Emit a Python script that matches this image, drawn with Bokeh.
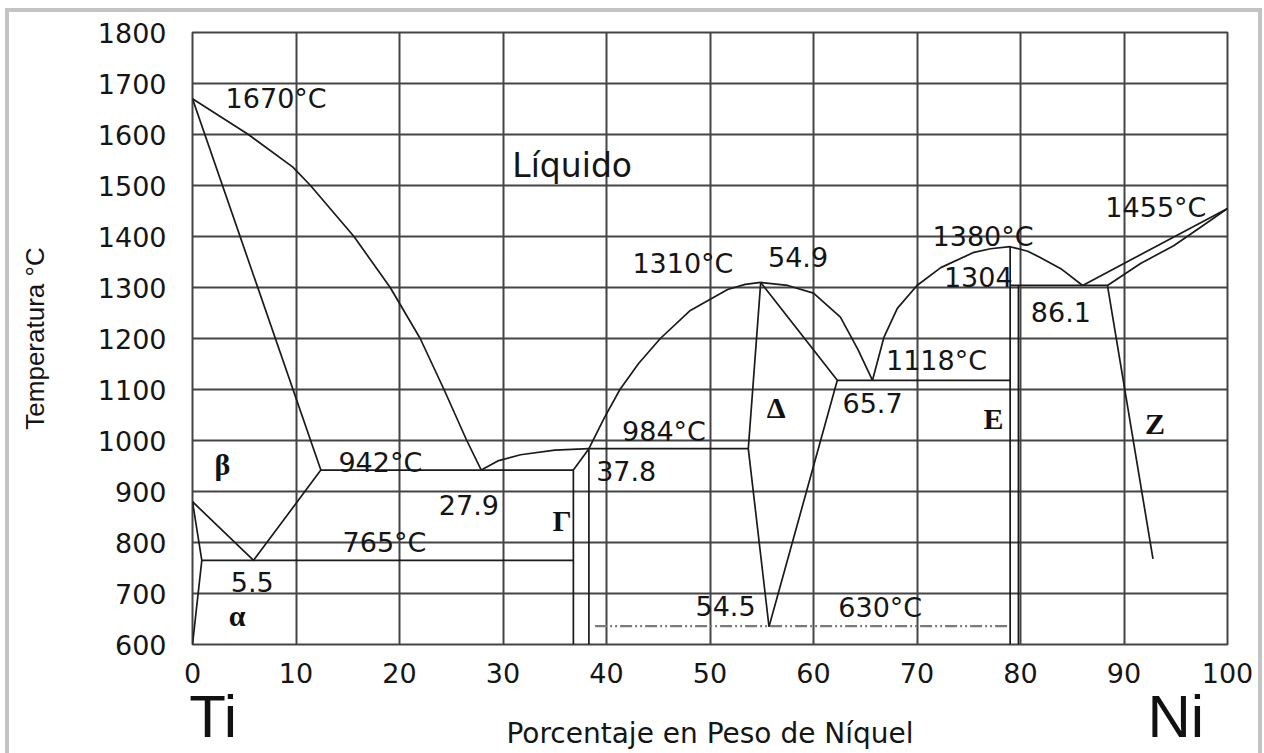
from bokeh.plotting import figure
from bokeh.models import ColumnDataSource, FixedTicker, Range1d, LinearAxis, InlineStyleSheet
from bokeh.core.properties import value
from bokeh.embed import file_html
from bokeh.resources import INLINE

# ---------------- data (wt% Ni, temperature in C) ----------------
x_ticks = [0, 10, 20, 30, 40, 50, 60, 70, 80, 90, 100]
y_ticks = [600, 700, 800, 900, 1000, 1100, 1200, 1300, 1400, 1500, 1600, 1700, 1800]
element_ticks = [2, 95]
element_names = {2: "Ti", 95: "Ni"}

liq_ti_x = [0, 5.4, 9.7, 11.4, 15.6, 19.1, 22.0, 24.3, 26.5, 27.9]
liq_ti_t = [1670, 1600, 1536, 1500, 1400, 1300, 1200, 1100, 1000, 942]

sol_beta_x = [0, 12.4]
sol_beta_t = [1670, 942]

beta_alpha_x = [0, 5.9, 12.4]
beta_alpha_t = [880, 765, 942]

alpha_x = [0, 0.9, 0]
alpha_t = [880, 765, 600]

iso765_x = [0.9, 36.8]
iso765_t = [765, 765]

iso942_x = [12.4, 36.8]
iso942_t = [942, 942]

gamma_x = [36.8, 36.8, 38.3, 38.3]
gamma_t = [600, 942, 984, 600]

liq_gamma_x = [27.9, 29.5, 31.7, 35.0, 38.3]
liq_gamma_t = [942, 960, 972, 981, 984]

iso984_x = [38.3, 53.7]
iso984_t = [984, 984]

liq_dl_x = [38.3, 39.8, 41.3, 43.1, 45.2, 48.1, 51.7, 53.4, 54.9]
liq_dl_t = [984, 1045, 1100, 1151, 1200, 1255, 1296, 1306, 1310]

liq_dr_x = [54.9, 57.5, 60.0, 62.6, 64.3, 65.7]
liq_dr_t = [1310, 1304, 1289, 1242, 1178, 1118]

delta_l_x = [54.9, 53.7, 55.7]
delta_l_t = [1310, 984, 635]

delta_r_x = [54.9, 62.3, 55.7]
delta_r_t = [1310, 1118, 635]

iso1118_x = [62.3, 79.0]
iso1118_t = [1118, 1118]

liq_e_x = [65.7, 66.8, 68.1, 70.0, 72.3, 75.5, 77.1, 79.0, 80.7, 81.9, 83.9, 86.0]
liq_e_t = [1118, 1202, 1259, 1304, 1339, 1369, 1376, 1380, 1371, 1359, 1337, 1304]

e1_x = [79.0, 79.0]
e1_t = [1380, 600]
e2_x = [79.8, 79.8]
e2_t = [1304, 600]

iso1304_x = [79.0, 88.4]
iso1304_t = [1304, 1304]

liq_ni_x = [86.0, 100]
liq_ni_t = [1304, 1455]

sol_ni_x = [88.4, 91.6, 94.8, 97.4, 100]
sol_ni_t = [1304, 1347, 1382, 1418, 1455]

solvus_z_x = [88.4, 92.8]
solvus_z_t = [1304, 768]

iso630_x = [38.9, 78.7]
iso630_t = [636, 636]

# annotation texts
num_text = ["1670°C", "1455°C", "1380°C", "1304", "86.1", "1118°C", "65.7",
            "1310°C", "54.9", "984°C", "37.8", "27.9", "942°C", "765°C",
            "5.5", "54.5", "630°C"]
num_x = [3.2, 88.2, 71.5, 72.6, 81.0, 67.0, 62.8,
         42.5, 55.6, 41.5, 39.0, 23.8, 14.1, 14.5,
         3.7, 48.6, 62.4]
num_t = [1671, 1457, 1400, 1320, 1251, 1157, 1074,
         1347, 1359, 1018, 941, 873, 957, 800,
         722, 676, 673]

phase_text = ["β", "α", "Γ", "Δ", "E", "Z"]
phase_x = [2.9, 4.3, 35.7, 56.4, 77.4, 93.0]
phase_t = [953, 657, 843, 1065, 1043, 1033]

# ---------------- figure ----------------
frame_css = InlineStyleSheet(css="""
:host { position: relative; }
:host::after {
  content: ""; position: absolute; left: 5px; top: 8px;
  width: 1249px; height: 760px;
  border: 4px solid #c3c3c3; pointer-events: none;
}
""")

p = figure(width=1264, height=753, output_backend="svg", toolbar_location=None,
           x_range=Range1d(0, 100), y_range=Range1d(600, 1800),
           min_border_left=192, min_border_right=37, min_border_top=32,
           min_border_bottom=109, background_fill_color="white",
           border_fill_color="white", stylesheets=[frame_css])

grid_col = "#444444"
p.xgrid.ticker = FixedTicker(ticks=x_ticks)
p.ygrid.ticker = FixedTicker(ticks=y_ticks)
for g in (p.xgrid, p.ygrid):
    g.grid_line_color = grid_col
    g.grid_line_width = 2
    g.grid_line_alpha = 1
p.outline_line_color = grid_col
p.outline_line_width = 2
p.outline_line_alpha = 1

p.xaxis.ticker = FixedTicker(ticks=x_ticks)
p.yaxis.ticker = FixedTicker(ticks=y_ticks)

elem_axis = LinearAxis(ticker=FixedTicker(ticks=element_ticks),
                       major_label_overrides=element_names)
p.add_layout(elem_axis, "below")

for ax in (p.xaxis[0], p.yaxis[0], elem_axis):
    ax.axis_line_color = None
    ax.major_tick_line_color = None
    ax.minor_tick_line_color = None
    ax.major_tick_out = 0
    ax.major_tick_in = 0
    ax.major_label_text_font = "DejaVu Sans"
    ax.major_label_text_font_size = "27px"
    ax.major_label_text_color = "#151515"
    ax.axis_label_text_font_style = "normal"
    ax.axis_label_text_color = "#151515"

p.yaxis.major_label_standoff = 26
p.yaxis.axis_label = "Temperatura °C"
p.yaxis.axis_label_text_font = "Liberation Sans"
p.yaxis.axis_label_text_font_size = "26px"
p.yaxis.axis_label_standoff = 45

p.xaxis[0].major_label_standoff = 18

elem_axis.major_label_text_font = "Liberation Sans"
elem_axis.major_label_text_font_size = "60px"
elem_axis.major_label_text_color = "#111111"
elem_axis.major_label_standoff = -3
elem_axis.axis_label = "Porcentaje en Peso de Níquel"
elem_axis.axis_label_text_font = "DejaVu Sans"
elem_axis.axis_label_text_font_size = "28px"
elem_axis.axis_label_standoff = -36

line_col = "#1a1a1a"
lw = 1.7
curves = [
    (liq_ti_x, liq_ti_t), (sol_beta_x, sol_beta_t), (beta_alpha_x, beta_alpha_t),
    (alpha_x, alpha_t), (iso765_x, iso765_t), (iso942_x, iso942_t),
    (gamma_x, gamma_t), (liq_gamma_x, liq_gamma_t), (iso984_x, iso984_t),
    (liq_dl_x, liq_dl_t), (liq_dr_x, liq_dr_t), (delta_l_x, delta_l_t),
    (delta_r_x, delta_r_t), (iso1118_x, iso1118_t), (liq_e_x, liq_e_t),
    (e1_x, e1_t), (e2_x, e2_t), (iso1304_x, iso1304_t),
    (liq_ni_x, liq_ni_t), (sol_ni_x, sol_ni_t), (solvus_z_x, solvus_z_t),
]
for cx, ct in curves:
    p.line(cx, ct, line_color=line_col, line_width=lw, line_join="round")

p.line(iso630_x, iso630_t, line_color="#7a7a7a", line_width=2.4,
       line_dash="12 3 2 3 2 3")

num_src = ColumnDataSource(dict(x=num_x, y=num_t, text=num_text))
p.text(x="x", y="y", text="text", source=num_src, text_font=value("DejaVu Sans"),
       text_font_size="27px", text_color="#151515", text_baseline="middle",
       text_align="left")

p.text(x=[30.9], y=[1539], text=["Líquido"], text_font=value("DejaVu Sans"),
       text_font_size="33px", text_color="#151515", text_baseline="middle",
       text_align="left")

phase_src = ColumnDataSource(dict(x=phase_x, y=phase_t, text=phase_text))
p.text(x="x", y="y", text="text", source=phase_src,
       text_font=value("Liberation Serif"), text_font_style="bold",
       text_font_size="30px", text_color="#111111", text_baseline="middle",
       text_align="center")

open("out.html", "w").write(file_html(p, INLINE))
